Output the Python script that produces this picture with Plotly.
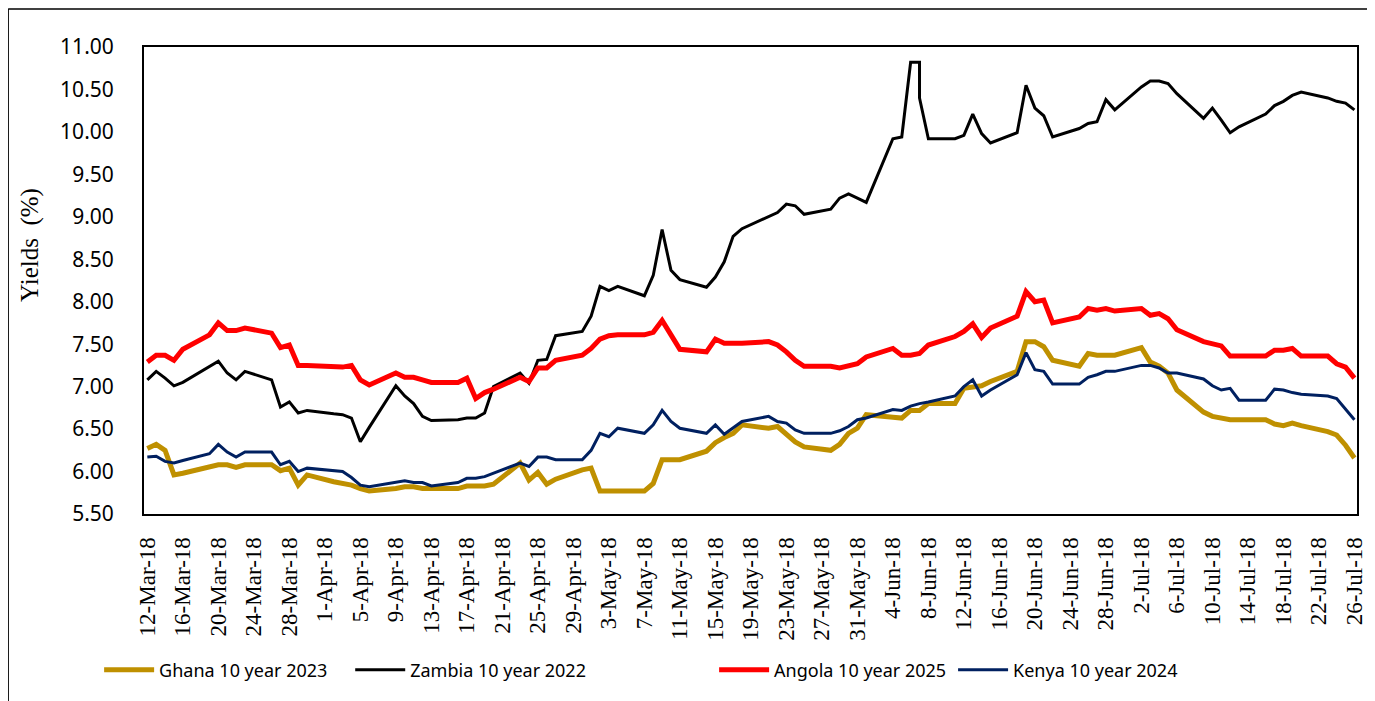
import plotly.graph_objects as go

# ---- data (business days; 7-Jun-18 appears twice for the Zambia drop) ----
dates = [
    "2018-03-12", "2018-03-13", "2018-03-14", "2018-03-15", "2018-03-16",
    "2018-03-19", "2018-03-20", "2018-03-21", "2018-03-22", "2018-03-23",
    "2018-03-26", "2018-03-27", "2018-03-28", "2018-03-29", "2018-03-30",
    "2018-04-02", "2018-04-03", "2018-04-04", "2018-04-05", "2018-04-06",
    "2018-04-09", "2018-04-10", "2018-04-11", "2018-04-12", "2018-04-13",
    "2018-04-16", "2018-04-17", "2018-04-18", "2018-04-19", "2018-04-20",
    "2018-04-23", "2018-04-24", "2018-04-25", "2018-04-26", "2018-04-27",
    "2018-04-30", "2018-05-01", "2018-05-02", "2018-05-03", "2018-05-04",
    "2018-05-07", "2018-05-08", "2018-05-09", "2018-05-10", "2018-05-11",
    "2018-05-14", "2018-05-15", "2018-05-16", "2018-05-17", "2018-05-18",
    "2018-05-21", "2018-05-22", "2018-05-23", "2018-05-24", "2018-05-25",
    "2018-05-28", "2018-05-29", "2018-05-30", "2018-05-31", "2018-06-01",
    "2018-06-04", "2018-06-05", "2018-06-06", "2018-06-07", "2018-06-07", "2018-06-08",
    "2018-06-11", "2018-06-12", "2018-06-13", "2018-06-14", "2018-06-15",
    "2018-06-18", "2018-06-19", "2018-06-20", "2018-06-21", "2018-06-22",
    "2018-06-25", "2018-06-26", "2018-06-27", "2018-06-28", "2018-06-29",
    "2018-07-02", "2018-07-03", "2018-07-04", "2018-07-05", "2018-07-06",
    "2018-07-09", "2018-07-10", "2018-07-11", "2018-07-12", "2018-07-13",
    "2018-07-16", "2018-07-17", "2018-07-18", "2018-07-19", "2018-07-20",
    "2018-07-23", "2018-07-24", "2018-07-25", "2018-07-26",
]

ghana = [
    6.27, 6.32, 6.25, 5.96, 5.98,
    6.06, 6.08, 6.08, 6.05, 6.08,
    6.08, 6.01, 6.04, 5.84, 5.96,
    5.88, 5.86, 5.84, 5.80, 5.77,
    5.80, 5.82, 5.82, 5.80, 5.80,
    5.80, 5.83, 5.83, 5.83, 5.85,
    6.10, 5.90, 5.99, 5.85, 5.91,
    6.02, 6.04, 5.77, 5.77, 5.77,
    5.77, 5.86, 6.14, 6.14, 6.14,
    6.24, 6.34, 6.40, 6.45, 6.55,
    6.51, 6.53, 6.43, 6.35, 6.29,
    6.25, 6.32, 6.45, 6.51, 6.67,
    6.64, 6.63, 6.72, 6.72, 6.72, 6.80,
    6.80, 6.98, 7.00, 7.01, 7.06,
    7.18, 7.53, 7.53, 7.47, 7.31,
    7.24, 7.39, 7.37, 7.37, 7.37,
    7.46, 7.29, 7.24, 7.16, 6.96,
    6.70, 6.65, 6.63, 6.61, 6.61,
    6.61, 6.56, 6.54, 6.57, 6.54,
    6.47, 6.43, 6.31, 6.16,
]

zambia = [
    7.08, 7.18, 7.10, 7.01, 7.05,
    7.23, 7.30, 7.16, 7.08, 7.18,
    7.08, 6.76, 6.82, 6.69, 6.72,
    6.68, 6.67, 6.63, 6.35, 6.52,
    7.01, 6.89, 6.80, 6.65, 6.60,
    6.61, 6.63, 6.63, 6.69, 7.00,
    7.16, 7.04, 7.31, 7.32, 7.60,
    7.65, 7.83, 8.18, 8.13, 8.18,
    8.07, 8.31, 8.85, 8.37, 8.26,
    8.17, 8.29, 8.47, 8.77, 8.86,
    9.00, 9.05, 9.15, 9.13, 9.03,
    9.09, 9.22, 9.27, 9.22, 9.17,
    9.92, 9.94, 10.82, 10.82, 10.40, 9.92,
    9.92, 9.96, 10.21, 9.98, 9.87,
    9.99, 10.55, 10.28, 10.19, 9.94,
    10.04, 10.10, 10.12, 10.38, 10.26,
    10.53, 10.60, 10.60, 10.57, 10.45,
    10.16, 10.28, 10.14, 9.99, 10.06,
    10.21, 10.31, 10.36, 10.43, 10.47,
    10.40, 10.36, 10.34, 10.26,
]

angola = [
    7.29, 7.37, 7.37, 7.31, 7.44,
    7.61, 7.75, 7.66, 7.66, 7.69,
    7.63, 7.46, 7.49, 7.25, 7.25,
    7.23, 7.23, 7.25, 7.08, 7.02,
    7.16, 7.11, 7.11, 7.08, 7.05,
    7.05, 7.10, 6.86, 6.93, 6.97,
    7.11, 7.06, 7.22, 7.22, 7.31,
    7.37, 7.45, 7.56, 7.60, 7.61,
    7.61, 7.64, 7.78, 7.61, 7.44,
    7.41, 7.56, 7.51, 7.51, 7.51,
    7.53, 7.49, 7.41, 7.31, 7.24,
    7.24, 7.22, 7.24, 7.27, 7.35,
    7.45, 7.37, 7.37, 7.39, 7.39, 7.49,
    7.59, 7.65, 7.74, 7.58, 7.69,
    7.83, 8.12, 8.00, 8.02, 7.75,
    7.82, 7.92, 7.90, 7.92, 7.89,
    7.92, 7.84, 7.86, 7.80, 7.67,
    7.53, 7.51, 7.48, 7.36, 7.36,
    7.36, 7.43, 7.43, 7.45, 7.36,
    7.36, 7.27, 7.23, 7.10,
]

kenya = [
    6.17, 6.18, 6.12, 6.10, 6.13,
    6.21, 6.32, 6.23, 6.17, 6.23,
    6.23, 6.08, 6.12, 6.00, 6.04,
    6.01, 6.00, 5.93, 5.84, 5.82,
    5.87, 5.89, 5.87, 5.87, 5.83,
    5.87, 5.92, 5.92, 5.94, 5.98,
    6.10, 6.06, 6.17, 6.17, 6.14,
    6.14, 6.25, 6.45, 6.41, 6.51,
    6.45, 6.55, 6.72, 6.59, 6.51,
    6.45, 6.55, 6.44, 6.51, 6.59,
    6.65, 6.59, 6.57, 6.49, 6.45,
    6.45, 6.48, 6.53, 6.61, 6.63,
    6.73, 6.72, 6.77, 6.80, 6.80, 6.82,
    6.89, 7.00, 7.08, 6.89, 6.96,
    7.14, 7.40, 7.20, 7.18, 7.03,
    7.03, 7.11, 7.14, 7.18, 7.18,
    7.25, 7.25, 7.22, 7.16, 7.16,
    7.09, 7.01, 6.96, 6.98, 6.84,
    6.84, 6.97, 6.96, 6.93, 6.91,
    6.89, 6.86, 6.74, 6.61,
]

series_names = ["Ghana 10 year 2023", "Zambia 10 year 2022",
                "Angola 10 year 2025", "Kenya 10 year 2024"]
series_values = [ghana, zambia, angola, kenya]
series_colors = ["#BF9000", "#000000", "#FF0000", "#002060"]
series_widths = [5, 3, 5, 3]
legend_ids = ["legend", "legend2", "legend3", "legend4"]
legend_x = [-0.037, 0.170, 0.470, 0.667]

y_title = "Yields  (%)"

fig = go.Figure()
for name, vals, col, w, lid in zip(series_names, series_values, series_colors,
                                   series_widths, legend_ids):
    fig.add_trace(go.Scatter(x=dates, y=vals, mode="lines", name=name,
                             line=dict(color=col, width=w),
                             legend=lid))

legend_font = dict(family="Noto Sans", size=18, color="#000000")
legends = {}
for lid, lx in zip(legend_ids, legend_x):
    legends[lid] = dict(x=lx, y=-0.334, xanchor="left", yanchor="middle",
                        orientation="h", font=legend_font, itemwidth=50,
                        bgcolor="rgba(0,0,0,0)", borderwidth=0)

# page has an 8px body margin: plot area sits at page x 144..1367, y 47..514
fig.update_layout(
    width=1367, height=693,
    margin=dict(l=136, r=8, t=39, b=187),
    plot_bgcolor="white", paper_bgcolor="white",
    showlegend=True,
    **legends,
)

fig.update_xaxes(
    type="date",
    range=["2018-03-11 15:00", "2018-07-26 07:00"],
    tickmode="linear", tick0="2018-03-12", dtick=4 * 86400000,
    tickformat="%-d-%b-%y", tickangle=-90,
    tickfont=dict(family="Liberation Serif", size=23, color="#000000"),
    showgrid=False, zeroline=False,
    showline=True, linecolor="#000000", linewidth=2, mirror=True,
    ticks="", ticklabelstandoff=12,
)
fig.update_yaxes(
    range=[5.5, 11.0], tickmode="linear", tick0=5.5, dtick=0.5,
    tickformat=".2f",
    tickfont=dict(family="Noto Sans", size=21, color="#000000"),
    showgrid=False, zeroline=False,
    showline=True, linecolor="#000000", linewidth=2, mirror=True,
    ticks="", ticklabelstandoff=24,
)

fig.add_annotation(text=y_title, xref="paper", yref="paper",
                   x=-0.094, y=0.576, xanchor="center", yanchor="middle",
                   textangle=-90, showarrow=False,
                   font=dict(family="Liberation Serif", size=25, color="#000000"))

# outer chart frame (left and top edges visible)
fig.add_shape(type="line", xref="paper", yref="paper",
              x0=-0.112, x1=-0.112, y0=-0.45, y1=1.0814,
              line=dict(color="#000000", width=1.5))
fig.add_shape(type="line", xref="paper", yref="paper",
              x0=-0.112, x1=1.02, y0=1.0814, y1=1.0814,
              line=dict(color="#000000", width=1.5))

fig.write_html("out.html")
